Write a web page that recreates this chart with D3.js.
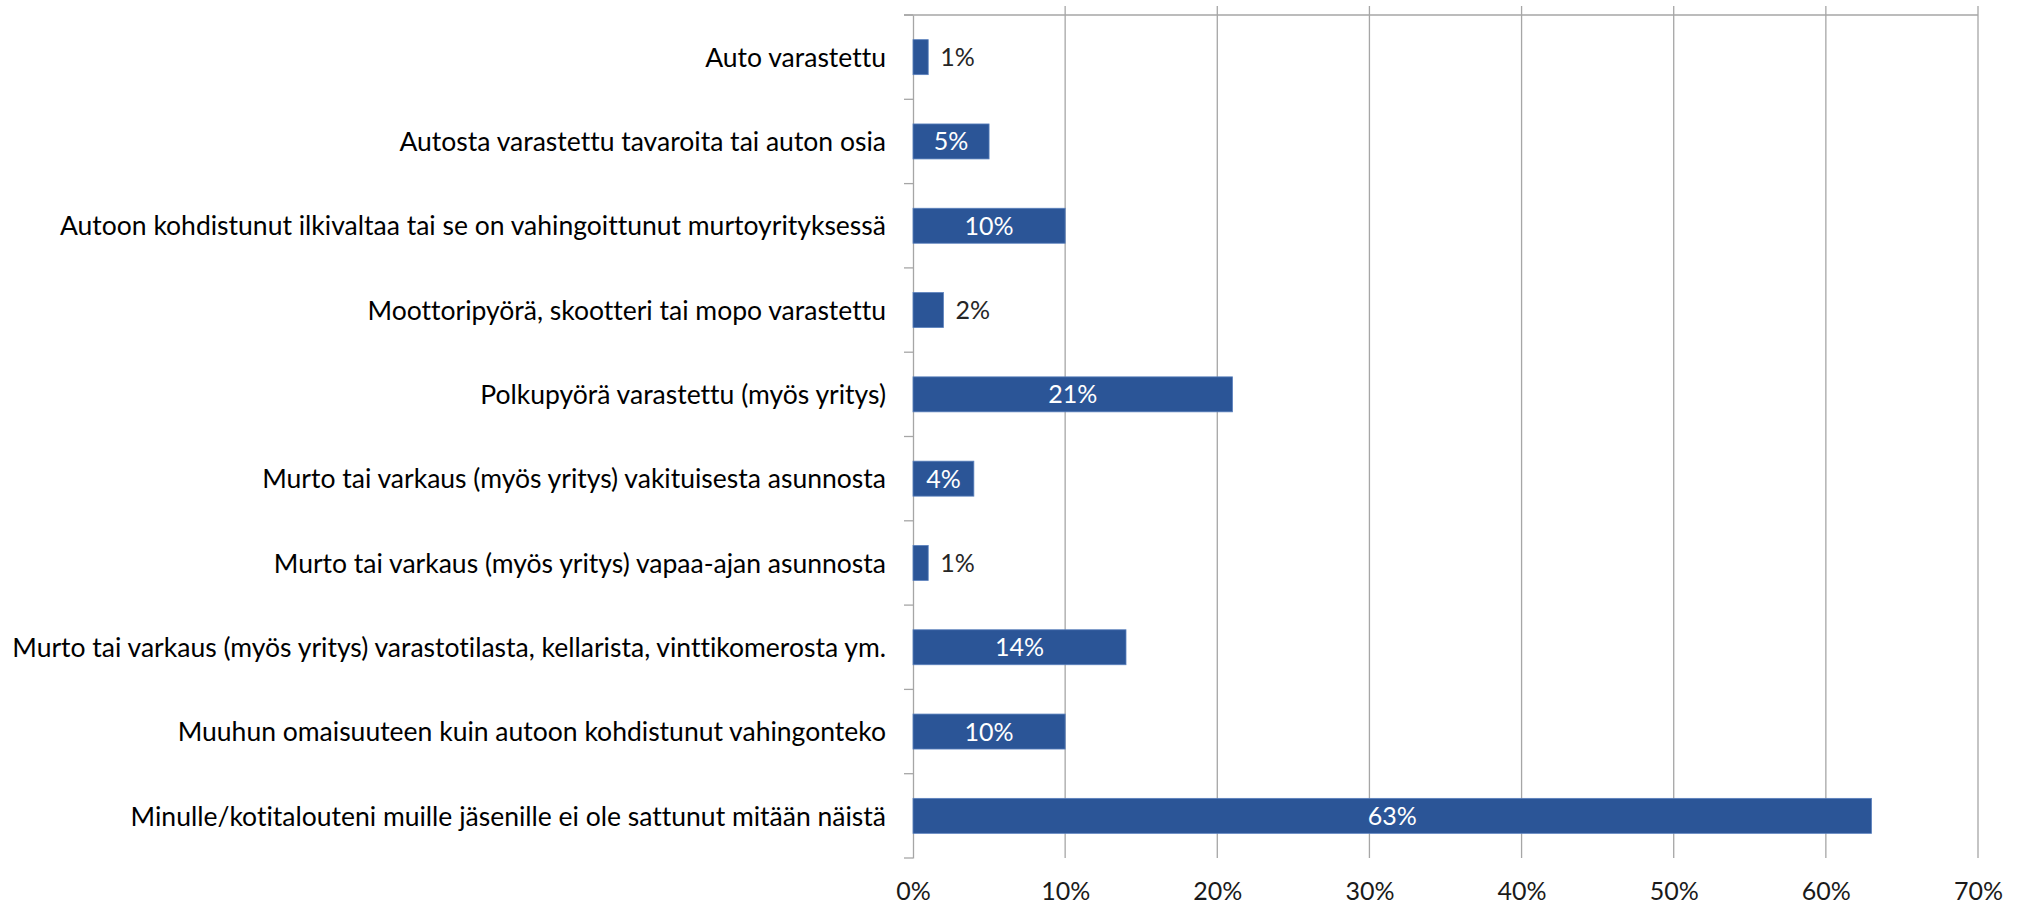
<!DOCTYPE html>
<html>
<head>
<meta charset="utf-8">
<script src="https://cdn.jsdelivr.net/npm/d3@7"></script>
<style>
  body { margin: 0; background: #fff; }
  text { font-family: Lato, "Open Sans", sans-serif; font-variant-ligatures: none; font-feature-settings: "liga" 0, "clig" 0; }
</style>
</head>
<body>
<div id="container"></div>
<script>
/* chart data */
var categories = [
  "Auto varastettu",
  "Autosta varastettu tavaroita tai auton osia",
  "Autoon kohdistunut ilkivaltaa tai se on vahingoittunut murtoyrityksessä",
  "Moottoripyörä, skootteri tai mopo varastettu",
  "Polkupyörä varastettu (myös yritys)",
  "Murto tai varkaus (myös yritys) vakituisesta asunnosta",
  "Murto tai varkaus (myös yritys) vapaa-ajan asunnosta",
  "Murto tai varkaus (myös yritys) varastotilasta, kellarista, vinttikomerosta ym.",
  "Muuhun omaisuuteen kuin autoon kohdistunut vahingonteko",
  "Minulle/kotitalouteni muille jäsenille ei ole sattunut mitään näistä"
]
var values = [1, 5, 10, 2, 21, 4, 1, 14, 10, 63]
var xTicks = [0, 10, 20, 30, 40, 50, 60, 70]

/* dimensions */
var W = 2022, H = 907
var margin = { top: 15, left: 913, right: 44, bottom: 49 }
var width = W - margin.left - margin.right,
    height = H - margin.top - margin.bottom

var svg = d3.select("#container")
            .append("svg")
            .attr("width", W)
            .attr("height", H)

var g = svg.append("g")
           .attr("transform", "translate(" + margin.left + "," + margin.top + ")")

var x = d3.scaleLinear().domain([0, 70]).range([0, width])
var y = d3.scaleBand()
          .domain(categories)
          .range([0, height])
          .paddingInner(0.585)
          .paddingOuter(0.2925)

var gridColor = "#a6a6a6"

/* vertical grid lines, with small ticks above the top line */
g.selectAll(".grid")
  .data(xTicks.slice(1))
  .enter().append("line")
    .attr("class", "grid")
    .attr("x1", function(d) { return x(d) })
    .attr("x2", function(d) { return x(d) })
    .attr("y1", -9)
    .attr("y2", height)
    .attr("stroke", gridColor)
    .attr("stroke-width", 1.3)

// top value axis line
g.append("line")
  .attr("x1", -9).attr("x2", width)
  .attr("y1", 0).attr("y2", 0)
  .attr("stroke", gridColor).attr("stroke-width", 1.3)

// left category axis, ticks between categories
var yAxis = d3.axisLeft(y).tickSize(0).tickFormat("")
g.append("g").call(yAxis)
  .call(function(a) {
    a.select(".domain").attr("stroke", gridColor).attr("stroke-width", 1.3)
  })

var bounds = d3.range(categories.length + 1).map(function(i) { return i * y.step() })
g.selectAll(".ytick")
  .data(bounds)
  .enter().append("line")
    .attr("class", "ytick")
    .attr("x1", -9).attr("x2", 0)
    .attr("y1", function(d) { return d })
    .attr("y2", function(d) { return d })
    .attr("stroke", gridColor)
    .attr("stroke-width", 1.3)

// bottom tick labels (value axis labels are placed below the plot)
var xAxis = d3.axisBottom(x)
              .tickValues(xTicks)
              .tickSize(0)
              .tickPadding(24)
              .tickFormat(function(d) { return d + "%" })
g.append("g")
  .attr("transform", "translate(0," + height + ")")
  .call(xAxis)
  .call(function(a) {
    a.select(".domain").remove()
    a.selectAll("text")
      .attr("font-size", 25)
      .attr("font-family", "Lato, sans-serif")
      .attr("fill", "#1a1a1a")
  })

/* bars */
g.selectAll(".bar")
  .data(values)
  .enter().append("rect")
    .attr("class", "bar")
    .attr("x", 0)
    .attr("y", function(d, i) { return y(categories[i]) })
    .attr("width", function(d) { return x(d) })
    .attr("height", y.bandwidth())
    .attr("fill", "#2b5597")
    .attr("stroke", "#5a80bd")
    .attr("stroke-width", 0.8)

/* data labels */
var labels = g.selectAll(".val")
  .data(values)
  .enter().append("text")
    .attr("class", "val")
    .attr("font-size", 25)
    .attr("dy", "0.36em")
    .attr("y", function(d, i) { return y(categories[i]) + y.bandwidth() / 2 })
    .text(function(d) { return d + "%" })

labels.each(function(d) {
  var t = d3.select(this)
  var len = this.getComputedTextLength()
  if (x(d) > len + 10) {
    t.attr("x", x(d) / 2).attr("text-anchor", "middle").attr("fill", "#ffffff")
  } else {
    t.attr("x", x(d) + 12).attr("text-anchor", "start").attr("fill", "#262626")
  }
})

/* category labels, squeezed horizontally so the longest one fits */
var catLabels = g.selectAll(".cat")
  .data(categories)
  .enter().append("text")
    .attr("class", "cat")
    .attr("font-size", 27)
    .attr("fill", "#000")
    .attr("text-anchor", "end")
    .text(function(d) { return d })

var longest = d3.max(catLabels.nodes(), function(n) { return n.getComputedTextLength() })
var k = 874 / longest
catLabels.attr("transform", function(d) {
  return "translate(-27," + (y(d) + y.bandwidth() / 2) + ") scale(" + k + ",1)"
}).attr("dy", "0.36em")
</script>
</body>
</html>
